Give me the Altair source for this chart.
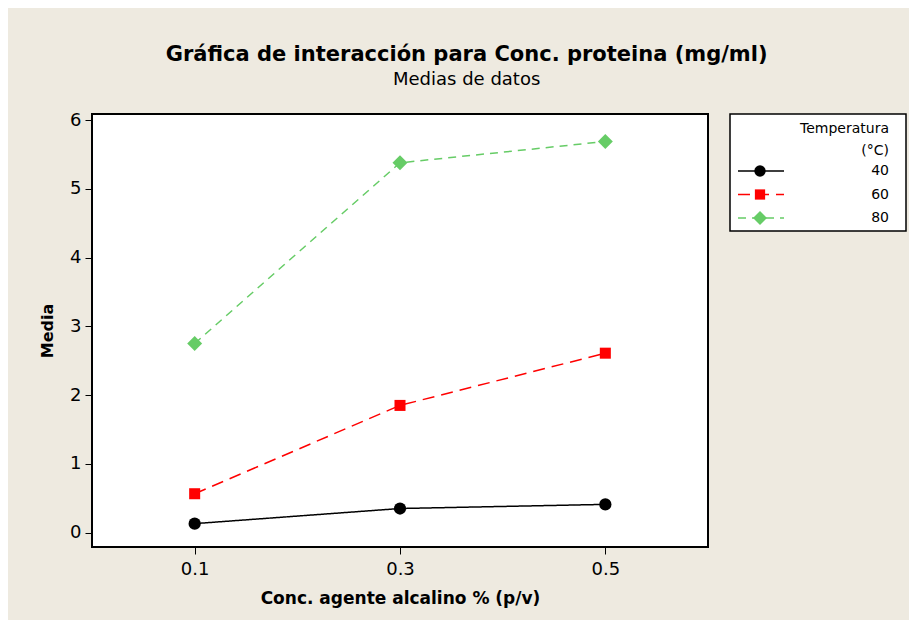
import altair as alt
import pandas as pd

# ---- data ----
conc = [0.1, 0.3, 0.5]
temps = ["40", "60", "80"]
temp_num = [40, 60, 80]
media_40 = [0.13, 0.35, 0.41]
media_60 = [0.565, 1.85, 2.61]
media_80 = [2.75, 5.38, 5.69]
x_ticks = [0.1, 0.3, 0.5]
y_ticks = [0, 1, 2, 3, 4, 5, 6]

series = {"40": media_40, "60": media_60, "80": media_80}
rows = []
for t in temps:
    for c, m in zip(conc, series[t]):
        rows.append({"Conc": c, "Media": m, "Temp": t})
df = pd.DataFrame(rows)
leg_df = pd.DataFrame({"Temp": temps, "TempN": temp_num})
leg_title_df = pd.DataFrame({"t": [0]})

FONT = "DejaVu Sans"
colors = ["#000000", "#FF0000", "#66CC66"]
SQUARE = "M-0.9,-0.9L0.9,-0.9L0.9,0.9L-0.9,0.9Z"
DIAMOND = "M-1.22,0L0,-1.22L1.22,0L0,1.22Z"
color = alt.Color("Temp:N", scale=alt.Scale(domain=temps, range=colors), legend=None)
shape = alt.Shape("Temp:N", scale=alt.Scale(domain=temps, range=["circle", SQUARE, DIAMOND]), legend=None)
dash = alt.StrokeDash("Temp:N", scale=alt.Scale(domain=temps, range=[[1, 0], [12, 7], [8, 6]]), legend=None)

x = alt.X("Conc:Q", scale=alt.Scale(domain=[0, 0.6], nice=False, zero=False),
          axis=alt.Axis(values=x_ticks, format=".1f", title="Conc. agente alcalino % (p/v)",
                        grid=False, domain=False, tickSize=7, tickColor="black", tickWidth=1,
                        labelFontSize=18, labelPadding=6, labelColor="black", labelFont=FONT,
                        titleFontSize=17, titleFont=FONT, titleFontWeight="bold", titleColor="black",
                        titlePadding=12))
y = alt.Y("Media:Q", scale=alt.Scale(domain=[-0.21, 6.09], nice=False, zero=False),
          axis=alt.Axis(values=y_ticks, title="Media", grid=False, domain=False, tickSize=7,
                        tickColor="black", tickWidth=1, labelFontSize=18, labelPadding=4,
                        labelColor="black", labelFont=FONT, titleFontSize=16, titleFont=FONT,
                        titleFontWeight="bold", titleColor="black", titlePadding=14))

lines = alt.Chart(df).mark_line(strokeWidth=1.5).encode(x=x, y=y, color=color, strokeDash=dash, detail="Temp:N")
pts = alt.Chart(df).mark_point(filled=True, opacity=1, size=150).encode(x=x, y=y, color=color, shape=shape)

main = alt.layer(lines, pts).properties(
    width=616, height=433,
    view=alt.ViewBackground(fill="white", stroke="black", strokeWidth=2),
)

ly = alt.Y("TempN:Q", scale=alt.Scale(domain=[40, 80], range=[57, 104], nice=False, zero=False), axis=None)
leg_dash = alt.StrokeDash("Temp:N", scale=alt.Scale(domain=temps, range=[[1, 0], [12, 7], [7, 6]]), legend=None)
leg_rule = alt.Chart(leg_df).mark_rule(strokeWidth=1.5).encode(
    x=alt.value(8), x2=alt.value(54), y=ly, color=color, strokeDash=leg_dash)
leg_pts = alt.Chart(leg_df).mark_point(filled=True, opacity=1, size=130).encode(
    x=alt.value(30), y=ly, color=color, shape=shape)
leg_lab = alt.Chart(leg_df).mark_text(align="right", baseline="middle", fontSize=14, font=FONT, color="black").encode(
    x=alt.value(159), y=ly, text="Temp:N")
leg_title = alt.Chart(leg_title_df).mark_text(align="right", baseline="middle", fontSize=14, font=FONT,
                                             color="black", lineHeight=22,
                                             text=["Temperatura", "(°C)"]).encode(
    x=alt.value(159), y=alt.value(15))
legend = alt.layer(leg_rule, leg_pts, leg_lab, leg_title).properties(
    width=176, height=117,
    view=alt.ViewBackground(fill="white", stroke="black", strokeWidth=1.5),
)

chart = alt.hconcat(main, legend, spacing=20).properties(
    title=alt.TitleParams(
        text="Gráfica de interacción para Conc. proteina (mg/ml)",
        subtitle="Medias de datos",
        anchor="middle", font=FONT, fontSize=21, fontWeight="bold", color="black",
        subtitleFont=FONT, subtitleFontSize=18, subtitleColor="black", subtitlePadding=6,
        offset=21, dx=-6,
    ),
    padding={"left": 30, "top": 36, "right": 2, "bottom": 13},
    background="#EEEAE0",
).configure_concat(spacing=20)

chart.save("out.html", embed_options={"renderer": "svg", "actions": False})
